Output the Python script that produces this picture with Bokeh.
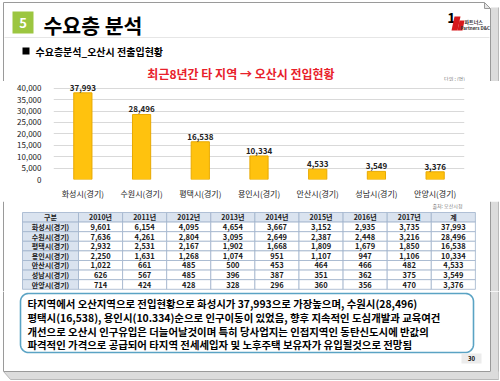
import numpy as np
from bokeh.plotting import figure
from bokeh.models import (Range1d, FactorRange, FixedTicker, NumeralTickFormatter,
                          ColumnDataSource, BoxAnnotation)
from bokeh.layouts import column
from bokeh.embed import file_html
from bokeh.resources import INLINE
from bokeh.core.properties import value

FONT = "Noto Sans CJK KR"

# ---------------- data ----------------
categories = ["화성시(경기)", "수원시(경기)", "평택시(경기)", "용인시(경기)",
              "안산시(경기)", "성남시(경기)", "안양시(경기)"]
totals = [37993, 28496, 16538, 10334, 4533, 3549, 3376]
y_ticks = [0, 5000, 10000, 15000, 20000, 25000, 30000, 35000, 40000]

table_header = ["구분", "2010년", "2011년", "2012년", "2013년", "2014년",
                "2015년", "2016년", "2017년", "계"]
hwaseong = [9601, 6154, 4095, 4654, 3667, 3152, 2935, 3735, 37993]
suwon = [7636, 4261, 2804, 3095, 2649, 2387, 2448, 3216, 28496]
pyeongtaek = [2932, 2531, 2167, 1902, 1668, 1809, 1679, 1850, 16538]
yongin = [2250, 1631, 1268, 1074, 951, 1107, 947, 1106, 10334]
ansan = [1022, 661, 485, 500, 453, 464, 466, 482, 4533]
seongnam = [626, 567, 485, 396, 387, 351, 362, 375, 3549]
anyang = [714, 424, 428, 328, 296, 360, 356, 470, 3376]
table_rows = [hwaseong, suwon, pyeongtaek, yongin, ansan, seongnam, anyang]

slide_number = "5"
slide_title = "수요층 분석"
sub_title = "수요층분석_오산시 전출입현황"
chart_title = "최근8년간 타 지역 → 오산시 전입현황"
unit_text = "단위 : (명)"
source_text = "출처: 오산시청"
page_no = "30"
summary_lines = [
    "타지역에서 오산지역으로 전입현황으로 화성시가 37,993으로 가장높으며, 수원시(28,496)",
    "평택시(16,538), 용인시(10.334)순으로 인구이동이 있었음, 향후 지속적인 도심개발과 교육여건",
    "개선으로 오산시 인구유입은 더늘어날것이며 특히 당사업지는 인접지역인 동탄신도시에 반값의",
    "파격적인 가격으로 공급되어 타지역 전세세입자 및 노후주택 보유자가 유입될것으로 전망됨",
]

W, H = 500, 381
BORDER = "#9a9a9a"
SHADOW = "#dcdcdc"
OUTER = "#b8b8b8"


def deco_fig(top, bottom):
    p = figure(width=W, height=bottom - top, x_range=Range1d(0, W),
               y_range=Range1d(bottom, top), output_backend="svg",
               toolbar_location=None, min_border=0, frame_align=False,
               x_axis_location=None, y_axis_location=None)
    p.grid.visible = False
    p.outline_line_color = None
    p.background_fill_color = "white"
    p.border_fill_color = "white"
    # slide edges: left line, right line with shadow band
    y0, y1 = max(top, 2), min(bottom, 371)
    if y1 > y0:
        p.segment(x0=3, y0=y0, x1=3, y1=y1, line_color=BORDER, line_width=1)
    ys0, ys1 = max(top, 7), min(bottom, 379)
    p.quad(left=490.5, right=498, top=ys0, bottom=ys1, fill_color=SHADOW, line_color=None)
    p.segment(x0=498, y0=ys0, x1=498, y1=ys1, line_color=OUTER, line_width=1)
    p.segment(x0=490, y0=max(top, 8), x1=490, y1=min(bottom, 371), line_color=BORDER, line_width=1)
    return p


def txt(p, x, y, s, size, color="black", bold=True, align="left", base="middle"):
    p.text(x=[x], y=[y], text=[s], text_font=value(FONT), text_font_size=size,
           text_font_style="bold" if bold else "normal", text_color=color,
           text_align=align, text_baseline=base)


# ---------------- header ----------------
CH_TOP, CH_BOT = 81, 201
h = deco_fig(0, CH_TOP)
h.segment(x0=3, y0=2, x1=484, y1=2, line_color=BORDER, line_width=1)
h.patch(x=[484, 490, 484], y=[2, 8, 8], fill_color="#e6e6e6", line_color=BORDER, line_width=1)
h.segment(x0=4, y0=37, x1=489, y1=37, line_color="#e6e6e6", line_width=1)
h.quad(left=12, right=33, top=11, bottom=33, fill_color="#9cc640", line_color=None)
txt(h, 22.5, 22.5, slide_number, "13px", color="white", align="center")
txt(h, 43, 24, slide_title, "20.5px")
h.quad(left=22, right=29, top=47, bottom=54, fill_color="black", line_color=None)
txt(h, 35, 51, sub_title, "10px")
# logo
txt(h, 451, 17, "1", "14px", align="center")
h.patch(x=[454, 460, 457, 451], y=[16, 16, 30, 30], fill_color="#d7191c", line_color=None)
h.patch(x=[459, 464, 462, 457], y=[20, 20, 30, 30], fill_color="#d7191c", line_color=None)
txt(h, 464, 21, "파트너스", "5px", color="#333333")
txt(h, 460, 27, "Partners D&C", "4.5px", color="#333333")
# chart title and unit
txt(h, 240.5, 72.5, chart_title, "12px", color="#e8212b", align="center")
txt(h, 454, 77.5, unit_text, "5px", color="#777777", bold=False, align="center")

# ---------------- bar chart ----------------
src = ColumnDataSource(dict(cat=categories, total=totals,
                            label=[f"{v:,}" for v in totals]))
c = figure(width=W, height=CH_BOT - CH_TOP, x_range=FactorRange(factors=categories),
           y_range=Range1d(0, 42956), output_backend="svg", toolbar_location=None,
           frame_align=False,
           min_border_left=53, min_border_right=36, min_border_top=0, min_border_bottom=11)
c.outline_line_color = None
c.background_fill_color = "white"
c.border_fill_color = "white"
c.vbar(x="cat", top="total", width=0.31, source=src,
       fill_color="#ffc20e", line_color="#e8a900", line_width=1)
c.text(x="cat", y="total", text="label", source=src, y_offset=-2,
       text_font=value(FONT), text_font_size="8px", text_font_style="bold",
       text_color="#222222", text_align="center", text_baseline="bottom")
c.yaxis.ticker = FixedTicker(ticks=y_ticks)
c.yaxis.formatter = NumeralTickFormatter(format="0,0")
for ax in (c.xaxis, c.yaxis):
    ax.axis_line_color = None
    ax.major_tick_line_color = None
    ax.minor_tick_line_color = None
    ax.major_label_text_font = FONT
    ax.major_label_text_font_size = "8px"
    ax.major_label_text_color = "#222222"
c.yaxis.major_label_standoff = 6
c.xaxis.major_label_standoff = 2
c.xgrid.visible = False
c.ygrid.grid_line_color = "#d9d9d9"
ch_h = CH_BOT - CH_TOP
for l, r, col in [(2.5, 3.5, BORDER), (490.5, 498, SHADOW), (489.5, 490.5, BORDER),
                  (497.5, 498.5, OUTER)]:
    c.add_layout(BoxAnnotation(left=l, right=r, top=0, bottom=ch_h,
                               left_units="canvas", right_units="canvas",
                               top_units="canvas", bottom_units="canvas",
                               fill_color=col, fill_alpha=1, line_color=None))

# ---------------- table ----------------
t = deco_fig(201, 291)
txt(t, 462, 205, source_text, "5px", color="#777777", bold=False, align="right")
T_TOP, ROW_H = 212, 9.6
col_edges = [22, 78] + [78 + 44.1 * (k + 1) for k in range(9)]
lefts, rights, tops, bottoms, fills = [], [], [], [], []
for r in range(8):
    for k in range(10):
        lefts.append(col_edges[k]); rights.append(col_edges[k + 1])
        tops.append(T_TOP + r * ROW_H); bottoms.append(T_TOP + (r + 1) * ROW_H)
        fills.append("#dae3ef" if (r == 0 or k == 0) else "white")
t.quad(left=lefts, right=rights, top=tops, bottom=bottoms, fill_color=fills,
       line_color="#9fb2cc", line_width=0.8)
xc = [(col_edges[k] + col_edges[k + 1]) / 2 for k in range(10)]
hx, hy, ht = [], [], []
for k in range(10):
    hx.append(xc[k]); hy.append(T_TOP + ROW_H / 2); ht.append(table_header[k])
for r, name in enumerate(categories):
    hx.append(xc[0]); hy.append(T_TOP + (r + 1.5) * ROW_H); ht.append(name)
t.text(x=hx, y=hy, text=ht, text_font=value(FONT), text_font_size="7px",
       text_font_style="bold", text_color="#1a1a1a", text_align="center", text_baseline="middle")
vx, vy, vt = [], [], []
for r, row in enumerate(table_rows):
    for k, v in enumerate(row):
        vx.append(xc[k + 1]); vy.append(T_TOP + (r + 1.5) * ROW_H); vt.append(f"{v:,}")
t.text(x=vx, y=vy, text=vt, text_font=value(FONT), text_font_size="7.5px",
       text_font_style="bold", text_color="#1a1a1a", text_align="center", text_baseline="middle")

# ---------------- summary box ----------------
s = deco_fig(291, H)


def rounded_rect(l, r, tp, b, rad):
    xs, ys = [], []
    for cx, cy, a0 in [(l + rad, tp + rad, np.pi), (r - rad, tp + rad, 1.5 * np.pi),
                       (r - rad, b - rad, 0.0), (l + rad, b - rad, 0.5 * np.pi)]:
        th = np.linspace(a0, a0 + 0.5 * np.pi, 10)
        xs.extend(cx + rad * np.cos(th)); ys.extend(cy + rad * np.sin(th))
    return xs, ys


bx, by = rounded_rect(20, 473, 293, 352, 8)
s.patch(x=bx, y=by, fill_color="white", line_color="#5aa3c4", line_width=1.6)
for i, line in enumerate(summary_lines):
    txt(s, 27, 303 + i * 13.8, line, "10.4px")
s.quad(left=461, right=481, top=353, bottom=363, fill_color="#ececec", line_color=None)
txt(s, 471, 358, page_no, "6px", align="center")
# bottom edge with shadow band
s.patch(x=[3, 490, 498, 498, 10], y=[371, 371, 371, 379, 379], fill_color=SHADOW, line_color=None)
s.segment(x0=3, y0=371, x1=490, y1=371, line_color=BORDER, line_width=1)
s.segment(x0=10, y0=379, x1=498, y1=379, line_color=OUTER, line_width=1)
s.segment(x0=3, y0=371, x1=10, y1=379, line_color=OUTER, line_width=1)

layout = column(h, c, t, s, spacing=0)
open("out.html", "w").write(file_html(layout, INLINE))
